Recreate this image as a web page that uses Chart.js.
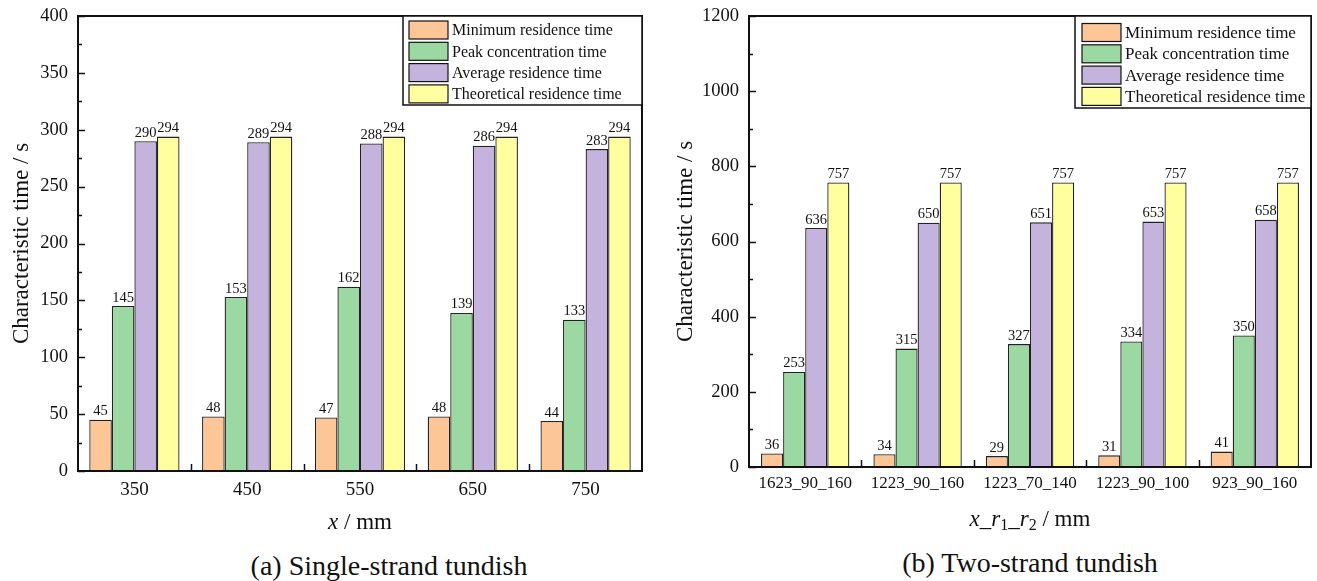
<!DOCTYPE html>
<html>
<head>
<script src="https://cdn.jsdelivr.net/npm/chart.js@4.4.0/dist/chart.umd.min.js"></script>
<style>
  body { margin: 0; background: #fff; width: 1317px; height: 581px; position: relative; overflow: hidden; }
  canvas { position: absolute; top: 0; }
  .cap { position: absolute; font-family: "Liberation Serif", serif; font-size: 28px; color: #111; white-space: nowrap; transform: translate(-50%, -50%); }
</style>
</head>
<body>
<canvas id="chartA" width="655" height="545" style="left:0px"></canvas>
<canvas id="chartB" width="657" height="545" style="left:660px"></canvas>
<div class="cap" style="left:389px; top:566px">(a) Single-strand tundish</div>
<div class="cap" style="left:1030px; top:563px">(b) Two-strand tundish</div>

<script>
// single-strand data
var labelsA = ['350', '450', '550', '650', '750'];
var minA = [45, 48, 47, 48, 44];
var peakA = [145, 153, 162, 139, 133];
var avgA = [290, 289, 288, 286, 283];
var theoA = [294, 294, 294, 294, 294];

// two-strand data
var labelsB = ['1623_90_160', '1223_90_160', '1223_70_140', '1223_90_100', '923_90_160'];
var minB = [36, 34, 29, 31, 41];
var peakB = [253, 315, 327, 334, 350];
var avgB = [636, 650, 651, 653, 658];
var theoB = [757, 757, 757, 757, 757];

var seriesNames = ['Minimum residence time', 'Peak concentration time', 'Average residence time', 'Theoretical residence time'];
var colors = ['#fcc697', '#9cd9a2', '#c4b3dc', '#ffff9f'];
var serif = '"Liberation Serif", "Times New Roman", serif';

// frame, inward ticks, value labels, legend and x title
var decor = {
  id: 'decor',
  afterDraw: function(chart) {
    var o = chart.options.plugins.decor;
    var ctx = chart.ctx, a = chart.chartArea;
    var ys = chart.scales.y, xs = chart.scales.x;
    ctx.save();
    ctx.strokeStyle = '#111';
    ctx.lineWidth = 1.5;
    // y ticks, major and minor, pointing in
    for (var v = 0; v <= ys.max; v += o.minor) {
      var major = Math.round(v / o.minor) % 2 === 0;
      var py = Math.round(ys.getPixelForValue(v)) + 0.5;
      ctx.beginPath(); ctx.moveTo(a.left, py); ctx.lineTo(a.left + (major ? 7 : 4), py); ctx.stroke();
    }
    // inward x ticks between groups
    var n = xs.ticks.length;
    for (var i = 1; i < n; i++) {
      var px = Math.round((xs.getPixelForValue(i - 1) + xs.getPixelForValue(i)) / 2) + 0.5;
      ctx.beginPath(); ctx.moveTo(px, a.bottom); ctx.lineTo(px, a.bottom - 7); ctx.stroke();
    }
    // box
    ctx.lineWidth = 2;
    ctx.strokeRect(a.left, a.top, a.right - a.left, a.bottom - a.top);

    // value labels
    ctx.fillStyle = '#111';
    ctx.font = '14.5px ' + serif;
    ctx.textAlign = 'center';
    ctx.textBaseline = 'bottom';
    chart.data.datasets.forEach(function(ds, di) {
      chart.getDatasetMeta(di).data.forEach(function(el, j) {
        ctx.fillText(String(ds.data[j]), el.x, el.y - 1);
      });
    });

    // legend
    var lx = a.right - o.legW, ly = a.top;
    ctx.fillStyle = '#fff';
    ctx.fillRect(lx, ly, o.legW, o.legH);
    ctx.lineWidth = 1.5;
    ctx.strokeRect(lx, ly, o.legW, o.legH);
    ctx.font = o.legFont + 'px ' + serif;
    ctx.textAlign = 'left';
    ctx.textBaseline = 'middle';
    chart.data.datasets.forEach(function(ds, di) {
      var cy = ly + o.legFirst + di * 21.3;
      ctx.fillStyle = ds.backgroundColor;
      ctx.fillRect(lx + o.swX, cy - 9, 39, 18);
      ctx.lineWidth = 1.2;
      ctx.strokeRect(lx + o.swX, cy - 9, 39, 18);
      ctx.fillStyle = '#111';
      ctx.fillText(ds.label, lx + o.swX + 43, cy + 1);
    });

    // x axis title with italics / subscripts
    var parts = o.xTitle;
    var total = 0;
    parts.forEach(function(p) {
      ctx.font = (p.it ? 'italic ' : '') + (p.sub ? 16 : 23) + 'px ' + serif;
      p.w = ctx.measureText(p.t).width;
      total += p.w;
    });
    var x0 = (a.left + a.right) / 2 - total / 2 + o.xTitleDx;
    ctx.textBaseline = 'middle';
    parts.forEach(function(p) {
      ctx.font = (p.it ? 'italic ' : '') + (p.sub ? 16 : 23) + 'px ' + serif;
      ctx.fillText(p.t, x0, o.xTitleY + (p.sub ? 6 : 0));
      x0 += p.w;
    });
    ctx.restore();
  }
};

function makeChart(id, labels, data, opts) {
  return new Chart(document.getElementById(id), {
    type: 'bar',
    data: {
      labels: labels,
      datasets: data.map(function(d, i) {
        return {
          label: seriesNames[i],
          data: d,
          backgroundColor: colors[i],
          borderColor: '#222',
          borderWidth: 1.3,
          categoryPercentage: opts.catPct,
          barPercentage: 1.0
        };
      })
    },
    options: {
      responsive: false,
      animation: false,
      layout: { padding: { top: 16, right: opts.padRight, bottom: 0, left: 0 } },
      plugins: {
        legend: { display: false },
        tooltip: { enabled: false },
        decor: opts.decor
      },
      scales: {
        x: {
          grid: { display: false, drawTicks: false },
          border: { display: false },
          ticks: { color: '#111', font: { family: serif, size: opts.xFont }, padding: opts.xPad, maxRotation: 0, autoSkip: false },
          afterFit: function(s) { s.height = opts.xHeight; s.paddingLeft = 0; s.paddingRight = 0; }
        },
        y: {
          min: 0, max: opts.yMax,
          border: { display: false },
          grid: { display: false, drawTicks: false },
          ticks: { stepSize: opts.yStep, color: '#111', font: { family: serif, size: 18.5 }, padding: 10,
            callback: function(v) { return String(v); } },
          title: { display: true, text: 'Characteristic time / s', color: '#111', font: { family: serif, size: 23 }, padding: { top: opts.yTitlePad, bottom: 0 } },
          afterFit: function(s) { s.width = opts.yWidth; s.paddingTop = 0; s.paddingBottom = 0; }
        }
      }
    },
    plugins: [decor]
  });
}

makeChart('chartA', labelsA, [minA, peakA, avgA, theoA], {
  yMax: 400, yStep: 50, yWidth: 78, padRight: 13, xHeight: 74, xPad: 8, xFont: 19, yTitlePad: 8, catPct: 0.8,
  decor: { minor: 25, legW: 239, legH: 89, legFirst: 14, swX: 6, legFont: 16,
    xTitle: [{ t: 'x', it: true }, { t: ' / mm' }], xTitleY: 523, xTitleDx: 0 }
});

makeChart('chartB', labelsB, [minB, peakB, avgB, theoB], {
  yMax: 1200, yStep: 200, yWidth: 89, padRight: 6, xHeight: 78, xPad: 6, xFont: 17, yTitlePad: 12, catPct: 0.786,
  decor: { minor: 100, legW: 236, legH: 92, legFirst: 16.5, swX: 7, legFont: 17,
    xTitle: [{ t: 'x', it: true }, { t: '_' }, { t: 'r', it: true }, { t: '1', sub: true }, { t: '_' }, { t: 'r', it: true }, { t: '2', sub: true }, { t: ' / mm' }], xTitleY: 520, xTitleDx: 0 }
});
</script>
</body>
</html>
